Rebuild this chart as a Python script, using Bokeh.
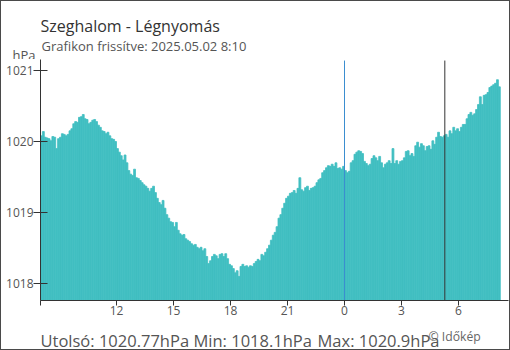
from bokeh.plotting import figure
from bokeh.models import Label, FixedTicker, Range1d
from bokeh.layouts import column
from bokeh.embed import file_html
from bokeh.resources import INLINE
import numpy as np

# ---- data ----
start_hour = 8.0          # 08:00 previous day
step_hours = 0.1          # 6-minute samples
pressure = [
    1020.08, 1020.14, 1020.06, 1020.05, 1020.04, 1020.01, 1020.07, 1020.06, 1019.90, 1020.04,
    1020.06, 1020.11, 1020.10, 1020.08, 1020.10, 1020.15, 1020.18, 1020.25, 1020.28, 1020.27,
    1020.34, 1020.35, 1020.38, 1020.32, 1020.31, 1020.25, 1020.27, 1020.30, 1020.31, 1020.28,
    1020.23, 1020.20, 1020.15, 1020.14, 1020.11, 1020.13, 1020.08, 1020.04, 1020.03, 1020.00,
    1019.90, 1019.85, 1019.80, 1019.74, 1019.81, 1019.70, 1019.59, 1019.54, 1019.52, 1019.61,
    1019.49, 1019.48, 1019.45, 1019.42, 1019.39, 1019.37, 1019.34, 1019.30, 1019.34, 1019.37,
    1019.28, 1019.20, 1019.14, 1019.11, 1019.17, 1019.06, 1018.97, 1018.92, 1018.87, 1018.86,
    1018.80, 1018.86, 1018.75, 1018.70, 1018.68, 1018.69, 1018.63, 1018.61, 1018.59, 1018.56,
    1018.54, 1018.55, 1018.51, 1018.49, 1018.51, 1018.46, 1018.49, 1018.38, 1018.28, 1018.32,
    1018.38, 1018.41, 1018.39, 1018.35, 1018.41, 1018.42, 1018.38, 1018.42, 1018.35, 1018.27,
    1018.25, 1018.21, 1018.15, 1018.18, 1018.10, 1018.24, 1018.27, 1018.24, 1018.25, 1018.23,
    1018.25, 1018.24, 1018.28, 1018.31, 1018.34, 1018.32, 1018.41, 1018.39, 1018.44, 1018.49,
    1018.54, 1018.61, 1018.68, 1018.72, 1018.80, 1018.92, 1018.97, 1019.06, 1019.13, 1019.20,
    1019.23, 1019.27, 1019.28, 1019.31, 1019.27, 1019.34, 1019.49, 1019.32, 1019.30, 1019.35,
    1019.37, 1019.31, 1019.34, 1019.35, 1019.37, 1019.42, 1019.46, 1019.48, 1019.56, 1019.59,
    1019.63, 1019.66, 1019.65, 1019.68, 1019.65, 1019.70, 1019.62, 1019.63, 1019.61, 1019.65,
    1019.59, 1019.56, 1019.58, 1019.70, 1019.73, 1019.82, 1019.85, 1019.87, 1019.86, 1019.83,
    1019.72, 1019.69, 1019.66, 1019.68, 1019.76, 1019.80, 1019.77, 1019.73, 1019.79, 1019.70,
    1019.63, 1019.68, 1019.70, 1019.73, 1019.69, 1019.90, 1019.69, 1019.73, 1019.68, 1019.72,
    1019.73, 1019.77, 1019.86, 1019.87, 1019.80, 1019.83, 1019.79, 1019.94, 1019.99, 1019.92,
    1019.97, 1019.94, 1019.87, 1019.93, 1019.94, 1019.89, 1020.01, 1019.96, 1020.06, 1020.13,
    1020.07, 1020.06, 1020.08, 1020.10, 1020.06, 1020.15, 1020.11, 1020.20, 1020.15, 1020.18,
    1020.14, 1020.20, 1020.24, 1020.24, 1020.32, 1020.38, 1020.41, 1020.37, 1020.39, 1020.45,
    1020.52, 1020.63, 1020.52, 1020.65, 1020.66, 1020.69, 1020.76, 1020.78, 1020.80, 1020.82,
    1020.87, 1020.77,
]
x_ticks = [8, 12, 15, 18, 21, 24, 27, 30]
x_tick_labels = ["", "12", "15", "18", "21", "0", "3", "6"]
y_ticks = [1018, 1019, 1020, 1021]
event_hours = [24.0, 29.28]          # midnight, sunrise
event_colors = ["#3b8ed0", "#333333"]

title_text = "Szeghalom - Légnyomás"
subtitle_text = "Grafikon frissítve: 2025.05.02 8:10"
unit_text = "hPa"
credit_text = "© Időkép"

hours = start_hour + step_hours * (np.arange(len(pressure)) + 0.5)

FONT = "Open Sans"
W = 508
TOP_H, BOT_H = 58, 29
MAIN_H = 348 - TOP_H - BOT_H
FL, FR = 39, 1
FRAME_BOTTOM_LOCAL = 299 - TOP_H
FB_ = MAIN_H - FRAME_BOTTOM_LOCAL
PX_PER_HPA = 71.0
Y0 = 1018 - (299 - 282) / PX_PER_HPA
Y1 = 1021 + (69 - TOP_H) / PX_PER_HPA
X0, X1 = 8.0, 8.0 + (W - FL - FR) / 19.0


def text_panel(h):
    f = figure(width=W, height=h, output_backend="svg", toolbar_location=None,
               x_range=Range1d(0, W), y_range=Range1d(h, 0),
               x_axis_location=None, y_axis_location=None,
               min_border_left=0, min_border_right=0, min_border_top=0, min_border_bottom=0)
    f.frame_align = False
    f.outline_line_color = None
    f.xgrid.visible = False
    f.ygrid.visible = False
    f.background_fill_color = "white"
    f.border_fill_color = "white"
    return f


def add_text(f, txt, fx, fy, size, color):
    f.add_layout(Label(x=fx, y=fy, x_units="canvas", y_units="canvas",
                       text=txt, text_font=FONT, text_font_size=size,
                       text_color=color, text_baseline="alphabetic", text_align="left"))


# ---- header ----
top = text_panel(TOP_H)
add_text(top, title_text, 39, 24, "16px", "#333333")
add_text(top, subtitle_text, 40, 44.5, "13px", "#555555")
add_text(top, unit_text, 11, 53.5, "13px", "#555555")

# ---- main chart ----
p = figure(width=W, height=MAIN_H, output_backend="svg", toolbar_location=None,
           x_range=Range1d(X0, X1), y_range=Range1d(Y0, Y1),
           min_border_left=FL, min_border_right=FR, min_border_top=0, min_border_bottom=FB_)
p.frame_align = False
p.outline_line_color = None
p.xgrid.visible = False
p.ygrid.visible = False
p.background_fill_color = "white"
p.border_fill_color = "white"

BAR = "#41bfc1"
p.vbar(x=hours, top=pressure, bottom=Y0, width=step_hours,
       fill_color=BAR, line_color=BAR, line_width=0.8)

p.segment(x0=event_hours, y0=[Y0] * len(event_hours), x1=event_hours,
          y1=[1021.14] * len(event_hours), line_color=event_colors, line_width=1)

xa = p.xaxis[0]
xa.ticker = FixedTicker(ticks=x_ticks)
xa.major_label_overrides = {t: l for t, l in zip(x_ticks, x_tick_labels)}
xa.major_tick_in = 0
xa.major_tick_out = 5
xa.minor_tick_line_color = None
xa.axis_line_color = "#333333"
xa.major_tick_line_color = "#333333"
xa.major_label_text_font = FONT
xa.major_label_text_font_size = "12px"
xa.major_label_text_color = "#555555"
xa.major_label_standoff = 0

ya = p.yaxis[0]
ya.ticker = FixedTicker(ticks=y_ticks)
ya.major_tick_in = 7
ya.major_tick_out = 7
ya.minor_tick_line_color = None
ya.axis_line_color = "#333333"
ya.major_tick_line_color = "#333333"
ya.major_label_text_font = FONT
ya.major_label_text_font_size = "12px"
ya.major_label_text_color = "#555555"
ya.major_label_standoff = 0

# ---- footer ----
last_v = pressure[-1]
min_v = min(pressure)
max_v = max(pressure)
bot = text_panel(BOT_H)
fy = 339 - (348 - BOT_H)
add_text(bot, f"Utolsó: {last_v:.2f}hPa", 39, fy, "16.5px", "#555555")
add_text(bot, f"Min: {min_v:.1f}hPa", 192, fy, "16.5px", "#555555")
add_text(bot, f"Max: {max_v:.1f}hPa", 316, fy, "16.5px", "#555555")
add_text(bot, credit_text, 427, 334.5 - (348 - BOT_H), "12.2px", "#666666")

page = column(top, p, bot, spacing=0, styles={"border": "1px solid #4a4a4a"})

open("out.html", "w").write(file_html(page, INLINE))
